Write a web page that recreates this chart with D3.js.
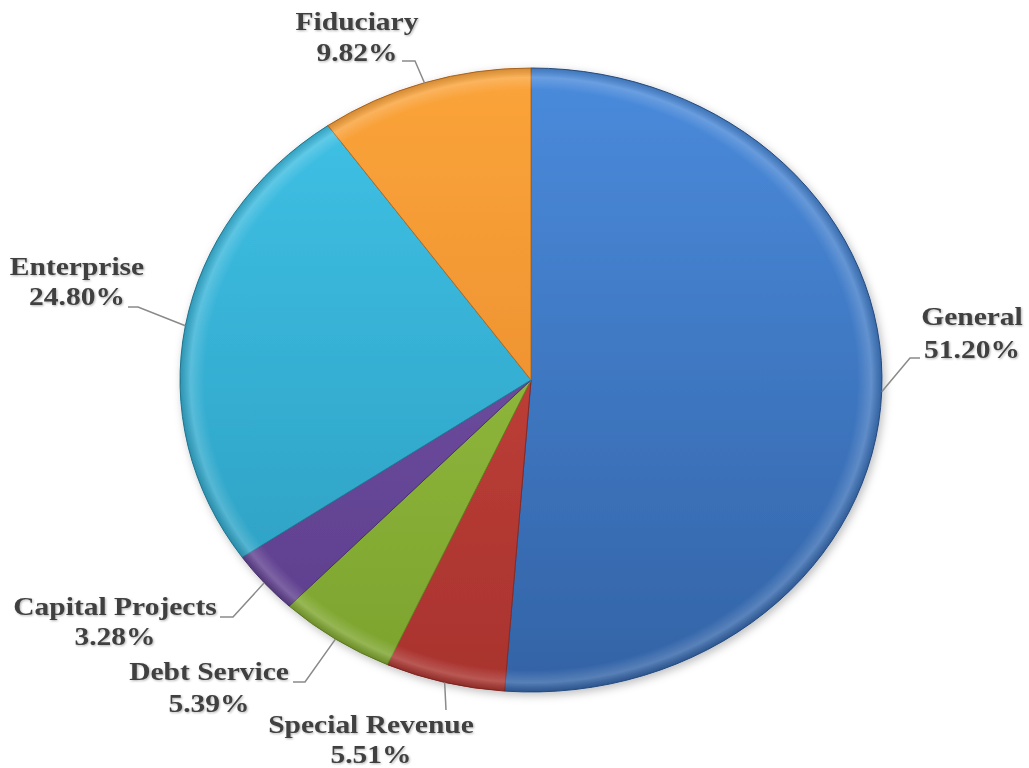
<!DOCTYPE html>
<html>
<head>
<meta charset="utf-8">
<script src="https://cdn.jsdelivr.net/npm/d3@7"></script>
<style>
  html, body { margin: 0; padding: 0; background: #ffffff; }
  svg { display: block; }
</style>
</head>
<body>
<svg id="chart" width="1029" height="768"></svg>
<script>
// ---- data ----
const categories = ["General", "Special Revenue", "Debt Service", "Capital Projects", "Enterprise", "Fiduciary"];
const values = [51.20, 5.51, 5.39, 3.28, 24.80, 9.82];
const valueLabels = ["51.20%", "5.51%", "5.39%", "3.28%", "24.80%", "9.82%"];

// ---- styles ----
const colorsTop = ["#4a8bdc", "#d04840", "#a0c84a", "#7a56ae", "#40c3e8", "#fba43a"];
const colorsBottom = ["#3363a6", "#a8332e", "#7ba22c", "#5b3d8a", "#2a9bbd", "#e3842a"];

// ---- layout ----
const W = 1029, H = 768;
const cx = 531, cy = 380, rx = 351, ry = 312;
// label layout: knee point of leader, end of leader, text center x, baselines
const labelLayout = {
  "General":          { knee: [910, 358], end: [920, 358], tx: 972, ty: [325, 358] },
  "Special Revenue":  { knee: [446, 710], end: [446, 710], tx: 371, ty: [733, 763] },
  "Debt Service":     { knee: [305, 682], end: [293, 682], tx: 209, ty: [680, 712] },
  "Capital Projects": { knee: [233, 617], end: [220, 617], tx: 115, ty: [615, 645] },
  "Enterprise":       { knee: [138, 307], end: [128, 307], tx: 77,  ty: [275, 305] },
  "Fiduciary":        { knee: [415, 61],  end: [402, 61],  tx: 357, ty: [30, 61] }
};

const svg = d3.select("#chart");
const defs = svg.append("defs");

// drop shadow
const f = defs.append("filter").attr("id", "shadow").attr("x", "-10%").attr("y", "-10%").attr("width", "120%").attr("height", "120%");
f.append("feDropShadow").attr("dx", 2).attr("dy", 3).attr("stdDeviation", 4).attr("flood-color", "#000").attr("flood-opacity", 0.25);

const tf = defs.append("filter").attr("id", "tshadow").attr("x", "-10%").attr("y", "-20%").attr("width", "120%").attr("height", "140%");
tf.append("feDropShadow").attr("dx", 1).attr("dy", 1).attr("stdDeviation", 1).attr("flood-color", "#000").attr("flood-opacity", 0.3);

const R = ry;
categories.forEach((c, i) => {
  const g = defs.append("linearGradient")
    .attr("id", "grad" + i)
    .attr("gradientUnits", "userSpaceOnUse")
    .attr("x1", 0).attr("y1", -R).attr("x2", 0).attr("y2", R);
  g.append("stop").attr("offset", "0%").attr("stop-color", colorsTop[i]);
  g.append("stop").attr("offset", "100%").attr("stop-color", colorsBottom[i]);
});

// radial sheen for bevel look
const rg = defs.append("radialGradient").attr("id", "sheen")
  .attr("gradientUnits", "userSpaceOnUse").attr("cx", 0).attr("cy", 0).attr("r", R);
rg.append("stop").attr("offset", "0%").attr("stop-color", "#fff").attr("stop-opacity", 0);
rg.append("stop").attr("offset", "93%").attr("stop-color", "#fff").attr("stop-opacity", 0);
rg.append("stop").attr("offset", "97%").attr("stop-color", "#fff").attr("stop-opacity", 0.18);
rg.append("stop").attr("offset", "100%").attr("stop-color", "#000").attr("stop-opacity", 0.15);

const data = categories.map((c, i) => ({ name: c, value: values[i], label: valueLabels[i], idx: i }));
const pie = d3.pie().sort(null).value(d => d.value);
const arcs = pie(data);
const arc = d3.arc().innerRadius(0).outerRadius(R);

const pieG = svg.append("g")
  .attr("transform", `translate(${cx},${cy}) scale(${rx / R},1)`)
  .attr("filter", "url(#shadow)");

pieG.selectAll("path.slice")
  .data(arcs)
  .enter().append("path")
  .attr("class", "slice")
  .attr("d", arc)
  .attr("fill", d => `url(#grad${d.data.idx})`)
  .attr("stroke", d => d3.color(colorsBottom[d.data.idx]).darker(0.6))
  .attr("stroke-width", 1)
  .attr("vector-effect", "non-scaling-stroke");

pieG.selectAll("path.sheen")
  .data(arcs)
  .enter().append("path")
  .attr("class", "sheen")
  .attr("d", arc)
  .attr("fill", "url(#sheen)")
  .attr("stroke", "none");

// leader lines & labels
const anchorPt = d => {
  const a = (d.startAngle + d.endAngle) / 2;
  return [cx + rx * Math.sin(a), cy - ry * Math.cos(a)];
};

const lineG = svg.append("g");
arcs.forEach(d => {
  const L = labelLayout[d.data.name];
  const p = anchorPt(d);
  lineG.append("polyline")
    .attr("points", [p, L.knee, L.end].map(q => q.join(",")).join(" "))
    .attr("fill", "none")
    .attr("stroke", "#8a8a8a")
    .attr("stroke-width", 1.5);
});

const textG = svg.append("g")
  .attr("font-family", "'Liberation Serif', 'Times New Roman', serif")
  .attr("font-weight", "bold")
  .attr("font-size", 25)
  .attr("fill", "#404040")
  .attr("filter", "url(#tshadow)");

arcs.forEach(d => {
  const L = labelLayout[d.data.name];
  [d.data.name, d.data.label].forEach((t, k) => {
    textG.append("text")
      .attr("transform", `translate(${L.tx},${L.ty[k]}) scale(1.18,1)`)
      .attr("text-anchor", "middle")
      .text(t);
  });
});
</script>
</body>
</html>
